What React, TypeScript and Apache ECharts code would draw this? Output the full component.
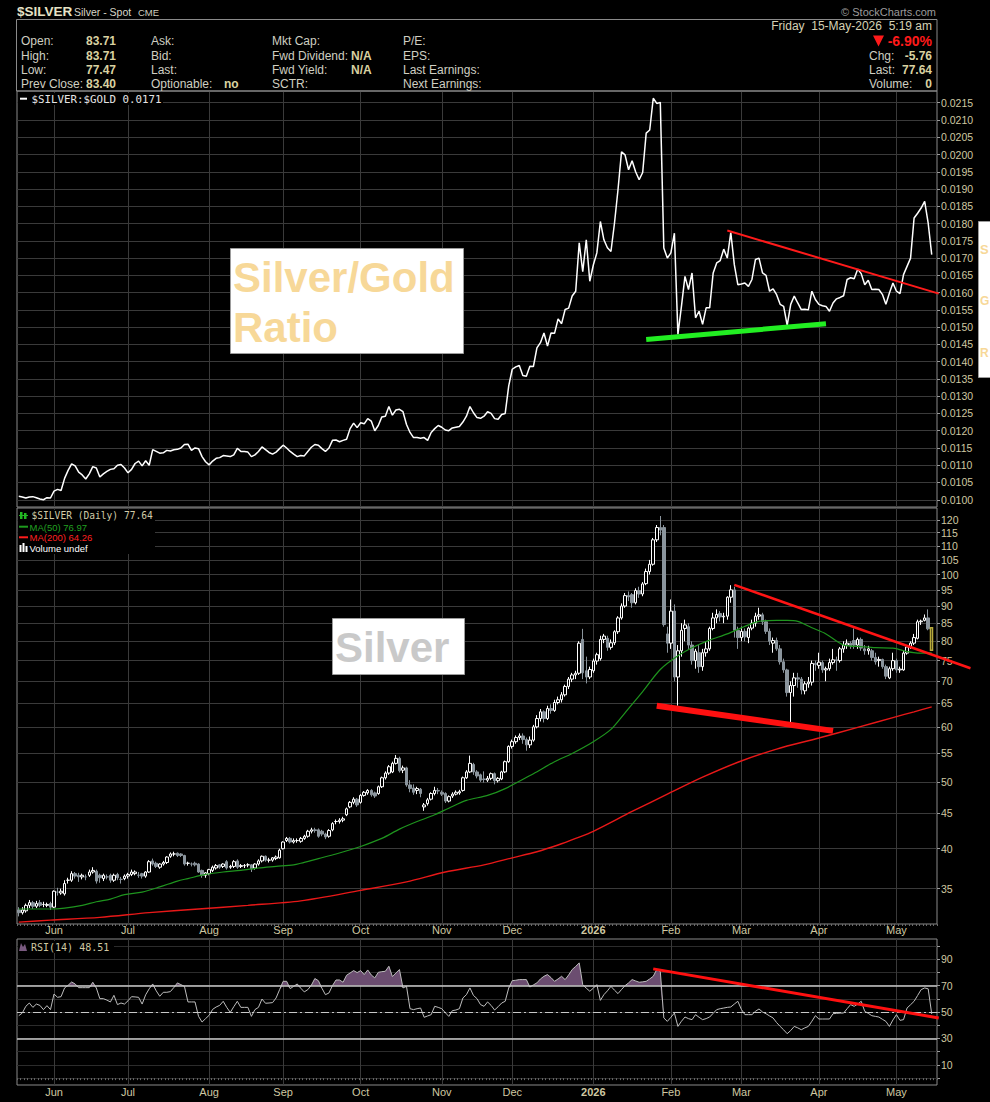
import React, { useEffect, useRef } from "react";
import * as echarts from "echarts";

// ---------- axes / ticks ----------
const monthLabels = ["Jun", "Jul", "Aug", "Sep", "Oct", "Nov", "Dec", "2026", "Feb", "Mar", "Apr", "May"];
const monthStarts = [10, 31, 54, 75, 97, 120, 140, 163, 185, 205, 227, 249];
const ratioTicks = [0.0100, 0.0105, 0.0110, 0.0115, 0.0120, 0.0125, 0.0130, 0.0135, 0.0140, 0.0145, 0.0150, 0.0155,
  0.0160, 0.0165, 0.0170, 0.0175, 0.0180, 0.0185, 0.0190, 0.0195, 0.0200, 0.0205, 0.0210, 0.0215];
const silverTicks = [35, 40, 45, 50, 55, 60, 65, 70, 75, 80, 85, 90, 95, 100, 105, 110, 115, 120];
const rsiLabels = [10, 30, 50, 70, 90];
const rsiGridLines = [0, 10, 20, 30, 40, 50, 60, 70, 80, 90, 100];

// ---------- $SILVER:$GOLD ratio (daily) ----------
const ratio = [
  0.01010, 0.01008, 0.01005, 0.01008, 0.01009, 0.01006, 0.01002, 0.01000, 0.01006, 0.01005,
  0.01025, 0.01030, 0.01027, 0.01062, 0.01085, 0.01104, 0.01098, 0.01080, 0.01072, 0.01060,
  0.01075, 0.01096, 0.01092, 0.01066, 0.01075, 0.01082, 0.01088, 0.01090, 0.01100, 0.01102,
  0.01092, 0.01078, 0.01088, 0.01105, 0.01112, 0.01098, 0.01113, 0.01100, 0.01145, 0.01140,
  0.01135, 0.01136, 0.01143, 0.01141, 0.01145, 0.01146, 0.01150, 0.01160, 0.01161, 0.01143,
  0.01150, 0.01148, 0.01125, 0.01110, 0.01101, 0.01112, 0.01120, 0.01122, 0.01128, 0.01127,
  0.01125, 0.01130, 0.01149, 0.01140, 0.01140, 0.01138, 0.01125, 0.01130, 0.01140, 0.01153,
  0.01145, 0.01137, 0.01132, 0.01138, 0.01148, 0.01158, 0.01150, 0.01140, 0.01132, 0.01125,
  0.01128, 0.01127, 0.01140, 0.01152, 0.01160, 0.01158, 0.01148, 0.01140, 0.01150, 0.01172,
  0.01173, 0.01168, 0.01172, 0.01175, 0.01206, 0.01222, 0.01209, 0.01223, 0.01220, 0.01235,
  0.01228, 0.01200, 0.01215, 0.01240, 0.01242, 0.01270, 0.01245, 0.01260, 0.01262, 0.01255,
  0.01218, 0.01195, 0.01180, 0.01180, 0.01178, 0.01180, 0.01172, 0.01195, 0.01206, 0.01215,
  0.01210, 0.01202, 0.01200, 0.01208, 0.01210, 0.01212, 0.01225, 0.01242, 0.01270, 0.01252,
  0.01238, 0.01236, 0.01242, 0.01255, 0.01250, 0.01235, 0.01233, 0.01247, 0.01250, 0.01330,
  0.01378, 0.01385, 0.01389, 0.01360, 0.01358, 0.01387, 0.01386, 0.01440, 0.01455, 0.01483,
  0.01445, 0.01483, 0.01482, 0.01524, 0.01510, 0.01551, 0.01555, 0.01590, 0.01604, 0.01744,
  0.01661, 0.01753, 0.01633, 0.01680, 0.01715, 0.01806, 0.01753, 0.01730, 0.01719, 0.01801,
  0.01898, 0.02008, 0.01999, 0.01956, 0.01982, 0.01950, 0.01927, 0.01948, 0.02062, 0.02071,
  0.02163, 0.02148, 0.02151, 0.01729, 0.01700, 0.01715, 0.01772, 0.01479, 0.01560, 0.01647,
  0.01609, 0.01657, 0.01527, 0.01546, 0.01508, 0.01556, 0.01556, 0.01657, 0.01686, 0.01693,
  0.01726, 0.01700, 0.01774, 0.01681, 0.01623, 0.01625, 0.01628, 0.01618, 0.01638, 0.01696,
  0.01700, 0.01657, 0.01650, 0.01604, 0.01611, 0.01594, 0.01566, 0.01560, 0.01505, 0.01566,
  0.01590, 0.01570, 0.01551, 0.01552, 0.01550, 0.01604, 0.01580, 0.01566, 0.01562, 0.01560,
  0.01546, 0.01570, 0.01582, 0.01586, 0.01591, 0.01638, 0.01643, 0.01640, 0.01668, 0.01655,
  0.01623, 0.01636, 0.01609, 0.01610, 0.01609, 0.01595, 0.01566, 0.01599, 0.01628, 0.01604,
  0.01597, 0.01652, 0.01676, 0.01700, 0.01816, 0.01830, 0.01845, 0.01864, 0.01801, 0.01710,
];

// ---------- $SILVER daily candles: [open, close, low, high] ----------
const silverOHLC = [
  [32.6, 32.3, 31.9, 32.9], [32.3, 32.6, 32.1, 32.9], [32.5, 33.1, 32.3, 33.3], [33.1, 33.4, 32.8, 33.7], [33.4, 33.0, 32.7, 33.6],
  [33.0, 33.3, 32.8, 33.6], [33.4, 33.1, 32.9, 33.7], [33.2, 33.2, 32.9, 33.5], [33.1, 33.2, 32.9, 33.4], [33.3, 32.9, 32.6, 33.5],
  [32.9, 34.7, 32.8, 34.8], [34.6, 34.6, 34.2, 35.1], [34.5, 34.7, 34.3, 35.0], [34.4, 35.6, 34.2, 36.0], [36.0, 36.0, 35.6, 36.3],
  [36.0, 36.8, 35.8, 37.1], [36.8, 36.5, 36.2, 37.0], [36.6, 36.4, 35.8, 36.9], [36.4, 36.6, 36.1, 36.8], [36.4, 36.4, 36.0, 36.7],
  [36.6, 37.0, 36.4, 37.3], [37.0, 37.2, 36.8, 37.6], [37.1, 35.9, 35.6, 37.3], [36.6, 36.3, 35.7, 36.8], [36.2, 36.6, 35.9, 36.8],
  [36.4, 36.4, 36.1, 36.7], [36.6, 36.0, 35.7, 36.8], [36.0, 36.6, 35.8, 36.8], [36.7, 36.3, 36.0, 36.9], [36.1, 36.1, 35.6, 36.4],
  [36.2, 36.5, 36.0, 36.7], [36.5, 36.7, 36.2, 36.9], [36.7, 37.0, 36.5, 37.3], [36.8, 37.0, 36.6, 37.2], [36.6, 36.6, 36.3, 37.0],
  [36.8, 36.5, 36.2, 36.9], [36.5, 37.0, 36.3, 37.1], [37.0, 38.3, 36.9, 38.5], [38.4, 38.0, 37.8, 38.7], [38.1, 37.7, 37.5, 38.3],
  [37.6, 38.0, 37.4, 38.1], [38.0, 38.2, 37.8, 38.4], [38.2, 38.9, 38.0, 39.0], [39.0, 39.3, 38.8, 39.5], [39.3, 39.3, 39.0, 39.6],
  [39.4, 39.1, 38.9, 39.5], [39.3, 39.1, 38.9, 39.4], [39.1, 38.0, 37.8, 39.2], [38.1, 38.1, 37.8, 38.3], [38.0, 38.0, 37.7, 38.2],
  [38.1, 37.9, 37.7, 38.3], [38.0, 37.0, 36.9, 38.1], [37.2, 36.6, 36.3, 37.3], [36.6, 36.9, 36.3, 37.0], [36.8, 37.3, 36.6, 37.4],
  [37.2, 37.6, 37.0, 37.8], [37.5, 37.8, 37.3, 38.0], [37.9, 37.6, 37.4, 38.0], [37.7, 38.0, 37.5, 38.1], [38.3, 37.5, 37.3, 38.5],
  [37.6, 37.7, 37.4, 37.9], [37.7, 38.3, 37.5, 38.5], [38.4, 37.6, 37.4, 38.6], [37.7, 37.8, 37.5, 38.0], [37.8, 37.8, 37.5, 38.0],
  [37.9, 37.9, 37.6, 38.1], [37.9, 37.4, 37.0, 38.0], [37.5, 38.0, 37.3, 38.1], [38.0, 38.4, 37.8, 38.6], [38.4, 39.0, 38.2, 39.1],
  [39.0, 38.5, 38.3, 39.1], [38.5, 38.5, 38.2, 38.8], [38.5, 38.8, 38.3, 38.9], [38.7, 38.9, 38.5, 39.1], [38.8, 39.8, 38.7, 40.0],
  [40.0, 40.9, 39.9, 41.0], [41.1, 41.4, 40.9, 41.6], [41.4, 40.9, 40.7, 41.6], [40.9, 41.1, 40.7, 41.4], [41.1, 41.1, 40.8, 41.4],
  [41.0, 41.4, 40.8, 41.6], [41.4, 41.7, 41.2, 41.9], [41.7, 42.4, 41.5, 42.6], [42.4, 42.6, 42.1, 42.9], [42.6, 42.5, 42.2, 42.9],
  [42.6, 41.7, 41.5, 42.8], [42.4, 42.0, 41.7, 42.6], [42.0, 41.6, 41.3, 42.2], [41.7, 42.5, 41.5, 42.7], [42.6, 43.5, 42.4, 43.7],
  [43.8, 43.8, 43.4, 44.1], [43.8, 44.0, 43.5, 44.3], [44.0, 44.2, 43.7, 44.5], [44.8, 45.7, 44.6, 45.9], [46.0, 46.7, 45.8, 46.9],
  [46.7, 47.2, 46.4, 47.5], [47.2, 46.3, 46.0, 47.4], [46.7, 47.8, 46.5, 48.0], [47.8, 48.3, 47.6, 48.5], [48.2, 48.6, 47.9, 48.8],
  [48.6, 47.9, 47.6, 48.8], [48.2, 47.7, 47.4, 48.4], [48.1, 49.2, 47.9, 49.4], [49.2, 50.7, 49.0, 50.9], [50.7, 51.5, 50.4, 51.8],
  [51.5, 52.6, 51.2, 52.9], [51.7, 53.2, 51.5, 53.5], [53.2, 54.1, 53.0, 54.7], [54.1, 51.9, 51.6, 54.4], [52.0, 52.4, 51.5, 52.8],
  [52.4, 49.5, 49.2, 52.6], [49.5, 48.9, 48.3, 50.3], [49.0, 48.3, 47.9, 49.6], [48.6, 48.9, 48.0, 49.2], [48.8, 48.1, 47.5, 49.0],
  [46.0, 46.3, 45.4, 46.6], [46.5, 47.1, 46.2, 47.4], [47.2, 48.1, 47.0, 48.3], [48.1, 48.6, 47.8, 49.2], [48.6, 48.5, 48.0, 49.0],
  [48.3, 48.0, 47.7, 48.6], [48.1, 46.9, 46.6, 48.3], [46.9, 47.6, 46.7, 47.8], [47.7, 48.0, 47.4, 48.3], [48.0, 48.3, 47.8, 48.6],
  [48.2, 48.4, 47.9, 48.7], [48.6, 50.7, 48.4, 50.9], [50.7, 51.7, 50.5, 52.0], [51.7, 53.2, 51.5, 54.6], [53.0, 51.7, 51.2, 53.3],
  [51.7, 51.0, 50.6, 52.0], [51.2, 50.3, 50.0, 51.4], [50.5, 50.4, 49.9, 51.8], [50.3, 50.6, 50.0, 51.0], [50.6, 51.4, 50.3, 51.6],
  [51.4, 50.2, 49.6, 51.6], [50.2, 50.6, 49.9, 50.8], [50.5, 51.7, 50.3, 51.9], [51.7, 53.5, 51.5, 53.7], [53.5, 56.3, 53.3, 56.5],
  [56.3, 57.2, 55.9, 57.6], [57.2, 58.0, 56.8, 58.4], [58.0, 58.3, 57.5, 58.8], [58.3, 57.6, 56.8, 58.8], [57.6, 56.6, 55.5, 58.0],
  [56.6, 57.5, 56.0, 58.2], [57.5, 60.1, 57.2, 60.5], [60.1, 61.8, 59.8, 62.5], [61.8, 63.2, 61.2, 63.8], [63.2, 61.8, 61.0, 63.5],
  [61.8, 63.9, 61.5, 64.5], [63.9, 63.5, 62.8, 64.8], [63.5, 65.2, 63.2, 65.8], [65.2, 65.8, 64.8, 66.5], [65.8, 66.9, 65.2, 67.5],
  [66.9, 68.8, 66.5, 69.2], [68.8, 70.5, 68.2, 71.0], [70.5, 71.5, 69.8, 72.0], [71.5, 71.9, 70.5, 72.5], [71.9, 79.5, 71.5, 80.0],
  [80.5, 72.0, 70.5, 83.4], [72.5, 71.0, 69.5, 76.0], [71.0, 72.8, 70.5, 73.5], [72.5, 74.9, 72.0, 75.5], [74.9, 76.5, 74.0, 77.0],
  [75.5, 80.5, 75.0, 81.5], [80.5, 81.4, 79.5, 82.0], [80.8, 78.4, 77.5, 81.5], [78.4, 79.6, 77.8, 80.5], [79.6, 82.6, 79.0, 83.0],
  [82.6, 86.5, 82.0, 87.0], [86.5, 90.0, 86.0, 90.8], [90.0, 93.2, 89.5, 94.0], [93.2, 92.8, 91.5, 94.5], [93.5, 91.0, 89.5, 94.0],
  [91.0, 94.8, 90.5, 95.5], [94.8, 93.7, 92.5, 96.0], [93.7, 96.9, 93.0, 97.5], [97.0, 101.0, 96.5, 102.0], [101.0, 103.5, 100.0, 105.0],
  [103.5, 112.3, 103.0, 113.0], [112.3, 117.0, 111.5, 118.0], [117.0, 116.0, 114.0, 121.6], [117.0, 84.6, 84.0, 118.0], [82.0, 79.5, 77.0, 84.0],
  [79.5, 88.5, 78.0, 92.0], [88.5, 71.0, 70.0, 90.5], [71.0, 77.5, 64.5, 79.0], [77.5, 83.0, 76.0, 85.0], [83.5, 84.5, 80.0, 86.0],
  [84.0, 79.0, 78.0, 85.0], [79.0, 75.0, 74.0, 80.0], [75.0, 77.4, 73.0, 78.0], [77.0, 73.5, 72.0, 79.0], [73.5, 77.0, 72.5, 78.0],
  [77.0, 78.0, 76.0, 80.0], [78.0, 83.5, 77.5, 84.0], [83.5, 86.5, 83.0, 88.0], [86.5, 87.5, 85.0, 89.0], [87.8, 86.8, 85.5, 88.5],
  [86.8, 87.0, 85.0, 88.0], [87.0, 92.7, 86.0, 93.0], [92.7, 95.0, 91.0, 96.5], [95.0, 83.0, 81.0, 96.0], [83.0, 81.0, 78.0, 84.0],
  [81.0, 82.7, 80.0, 84.0], [82.7, 81.2, 80.0, 83.5], [81.0, 83.6, 79.5, 84.0], [83.6, 85.0, 83.0, 86.0], [85.0, 87.0, 84.0, 88.0],
  [87.0, 87.4, 86.0, 89.5], [87.4, 85.4, 84.5, 88.0], [85.4, 82.7, 82.0, 86.0], [82.7, 80.0, 79.0, 83.5], [79.5, 80.2, 77.0, 81.0],
  [80.2, 78.0, 77.5, 81.0], [78.0, 74.7, 74.0, 79.0], [74.7, 72.7, 72.0, 75.5], [72.7, 67.4, 66.5, 73.0], [67.4, 69.0, 61.0, 70.0],
  [69.0, 70.8, 66.5, 72.0], [70.8, 70.5, 68.5, 72.0], [70.5, 68.0, 67.0, 71.0], [67.8, 69.4, 67.0, 70.0], [69.4, 69.8, 68.5, 71.0],
  [69.8, 74.3, 69.0, 75.0], [74.3, 74.0, 72.5, 75.0], [73.8, 74.6, 73.0, 77.0], [74.5, 72.7, 72.0, 75.0], [72.7, 73.0, 70.0, 73.5],
  [73.0, 74.5, 72.5, 75.5], [74.5, 75.2, 74.0, 78.0], [75.2, 75.0, 72.5, 76.0], [75.0, 78.0, 74.5, 78.5], [78.0, 79.0, 77.0, 80.0],
  [79.0, 79.5, 78.0, 80.5], [79.5, 78.8, 78.0, 80.0], [80.2, 79.0, 78.0, 83.5], [79.0, 80.5, 78.0, 81.0], [80.5, 78.2, 77.5, 81.0],
  [78.0, 77.5, 76.5, 79.0], [77.5, 78.0, 76.5, 78.8], [77.5, 75.8, 75.0, 78.0], [75.8, 74.7, 74.0, 77.0], [75.0, 75.3, 73.5, 76.0],
  [75.3, 73.5, 73.0, 75.5], [73.5, 71.2, 70.5, 74.0], [70.8, 73.0, 70.5, 73.5], [73.0, 75.0, 72.5, 77.0], [75.0, 72.7, 72.0, 75.5],
  [72.7, 72.9, 72.0, 73.5], [72.7, 76.9, 72.5, 77.5], [76.9, 78.5, 76.5, 79.0], [78.5, 79.5, 78.0, 80.0], [79.5, 81.0, 79.0, 82.0],
  [80.8, 85.4, 80.5, 86.0], [85.4, 85.6, 84.5, 86.0], [85.8, 86.5, 85.5, 87.5], [86.5, 83.4, 83.0, 89.0], [83.71, 77.64, 77.47, 83.71],
];

// ---------- moving averages as [dayIndex, value] ----------
const ma50Points = [
  [0, 32.7], [9, 32.7], [13, 32.8], [18, 33.1], [22, 33.5], [26, 33.8], [30, 34.3], [35, 34.6], [40, 35.2], [45, 35.9],
  [48, 36.2], [53, 36.7], [58, 37.0], [63, 37.2], [68, 37.5], [73, 37.7], [78, 37.9], [80, 38.1], [85, 38.7], [90, 39.3],
  [97, 40.3], [103, 41.4], [108, 42.7], [113, 43.8], [118, 44.8], [122, 45.8], [127, 47.0], [133, 47.8], [138, 48.9], [146, 51.4],
  [152, 53.5], [157, 55.0], [163, 57.2], [168, 59.6], [172, 63.0], [177, 67.6], [182, 72.8], [187, 76.2], [191, 78.3], [196, 80.3],
  [201, 82.0], [206, 84.1], [210, 85.5], [215, 85.8], [218, 85.8], [221, 85.5], [225, 83.7], [229, 82.0], [234, 79.0], [239, 78.6],
  [243, 78.3], [248, 78.2], [252, 77.3], [255, 76.9], [259, 76.97],
];
const ma200Points = [
  [0, 31.3], [9, 31.5], [23, 31.8], [37, 32.3], [51, 32.7], [65, 33.1], [80, 33.6], [97, 34.8], [110, 35.8], [121, 37.0],
  [132, 37.9], [140, 38.8], [147, 39.6], [153, 40.5], [158, 41.4], [163, 42.4], [174, 45.3], [184, 48.0], [194, 50.8], [204, 53.4],
  [215, 55.8], [227, 57.9], [238, 60.0], [248, 62.0], [254, 63.2], [259, 64.26],
];

// ---------- RSI(14) ----------
const rsi14 = [
  47.2, 49.2, 54.3, 56.8, 53.5, 56.0, 55.0, 51.8, 54.8, 51.8,
  63.6, 61.1, 61.6, 68.2, 70.2, 72.7, 71.2, 68.4, 68.4, 68.4,
  68.4, 72.5, 68.2, 60.1, 60.1, 59.0, 57.6, 62.6, 55.6, 56.8,
  56.0, 58.5, 61.6, 61.4, 61.1, 56.0, 63.0, 67.5, 71.2, 66.0,
  61.9, 64.9, 64.9, 65.4, 68.5, 72.0, 70.7, 69.4, 57.6, 57.6,
  57.6, 46.7, 42.4, 45.0, 47.5, 52.0, 53.8, 55.0, 58.1, 53.5,
  49.7, 54.0, 58.1, 53.5, 53.5, 53.5, 46.7, 51.8, 53.5, 59.8,
  56.6, 56.8, 57.1, 60.6, 66.9, 73.2, 73.2, 67.7, 69.4, 71.2,
  68.0, 65.2, 66.9, 70.2, 75.3, 73.7, 68.0, 63.1, 64.4, 70.0,
  74.2, 74.2, 72.5, 77.8, 79.5, 81.3, 79.8, 81.3, 78.3, 81.8,
  78.0, 75.8, 80.0, 80.5, 80.8, 84.6, 76.8, 79.5, 82.1, 68.2,
  69.4, 52.5, 51.8, 52.5, 53.0, 46.0, 47.0, 48.0, 54.3, 53.5,
  52.5, 49.5, 46.7, 51.0, 51.5, 52.5, 60.6, 63.1, 68.2, 62.5,
  60.1, 55.6, 54.3, 57.6, 55.0, 51.5, 54.0, 56.8, 58.1, 68.2,
  73.7, 74.0, 74.5, 74.5, 74.5, 68.9, 70.5, 72.0, 75.0, 77.0,
  78.3, 76.0, 73.2, 75.0, 77.0, 74.5, 78.0, 82.1, 84.5, 87.1,
  70.7, 68.0, 65.7, 68.0, 70.7, 58.8, 63.1, 66.0, 69.4, 66.5,
  63.9, 67.0, 69.9, 72.0, 74.5, 73.5, 72.5, 72.8, 73.2, 75.0,
  77.0, 82.1, 80.8, 45.5, 42.9, 46.0, 49.2, 39.1, 43.0, 46.2,
  45.0, 44.2, 48.0, 46.0, 44.2, 45.0, 46.2, 49.0, 51.8, 52.5,
  53.0, 53.5, 53.8, 56.0, 58.1, 52.0, 48.0, 48.0, 48.0, 50.5,
  52.3, 50.0, 48.7, 47.0, 45.5, 42.0, 39.1, 36.5, 33.6, 36.0,
  39.1, 38.0, 36.6, 38.0, 39.1, 43.0, 47.2, 44.7, 44.7, 44.7,
  44.7, 48.7, 49.0, 49.2, 49.2, 52.5, 55.6, 54.3, 56.0, 58.1,
  50.5, 49.0, 47.2, 46.7, 46.2, 44.5, 42.9, 39.1, 44.0, 48.0,
  43.7, 44.2, 53.0, 55.5, 58.1, 62.5, 66.9, 68.2, 67.5, 48.5,
];

// ---------- hand-drawn trend lines, in data coordinates [dayIndex, value] ----------
const trendLines = [
  { grid: 0, from: [201, 0.0178], to: [261, 0.01597], color: "#ff1a1a", width: 2 },
  { grid: 0, from: [178, 0.01464], to: [229, 0.0151], color: "#22ee22", width: 5 },
  { grid: 1, from: [203, 96.6], to: [270, 73.1], color: "#ff1414", width: 2.5 },
  { grid: 1, from: [181, 64.5], to: [231, 59.3], color: "#ff1010", width: 6 },
  { grid: 2, from: [180, 82.6], to: [261, 45.5], color: "#ff1010", width: 3 },
];

const SANS = "'Liberation Sans', Arial, sans-serif";
const MONO = "'DejaVu Sans Mono', monospace";
const AXIS_TXT = "#cfc8a2";
const GRIDLINE = "#3a3a3a";
const BORDER = "#8a8a8a";

const txt = (text: string, x: number, y: number, font: string, fill: string, align = "left", z = 60) => ({
  type: "text",
  x,
  y,
  silent: true,
  z,
  style: { text, font, fill, align, verticalAlign: "middle", textAlign: align, textVerticalAlign: "middle" },
});

export default function App() {
  const ref = useRef<HTMLDivElement>(null);

  useEffect(() => {
    document.body.style.margin = "0";
    document.body.style.background = "#000";
    const chart = echarts.init(ref.current as HTMLDivElement, null, { renderer: "svg", width: 990, height: 1102 });

    const N = silverOHLC.length;
    const cats = Array.from({ length: N + 1 }, (_, i) => String(i));
    const isMonthStart = (idx: number) => monthStarts.indexOf(idx) >= 0;
    const monthName = (idx: number) => {
      const k = monthStarts.indexOf(idx);
      if (k < 0) return "";
      const l = monthLabels[k];
      return l === "2026" ? "{b|2026}" : l;
    };

    const grids = [
      { left: 17, top: 91, width: 920, height: 416 },
      { left: 17, top: 508, width: 920, height: 416 },
      { left: 17, top: 939, width: 920, height: 146 },
    ].map((g) => ({ ...g, show: true, borderColor: BORDER, borderWidth: 1, backgroundColor: "#000", containLabel: false }));

    const xAxisFor = (k: number) => ({
      type: "category",
      gridIndex: k,
      data: cats,
      boundaryGap: true,
      axisLine: { show: false },
      axisTick: { show: k > 0, interval: 0, length: 2, lineStyle: { color: "#6a6a6a" } },
      axisLabel: {
        show: k > 0,
        interval: (idx: number) => isMonthStart(idx),
        formatter: (_v: string, idx: number) => monthName(idx),
        color: AXIS_TXT,
        fontFamily: SANS,
        fontSize: 11,
        margin: k === 1 ? 0 : 1,
        rich: { b: { fontWeight: "bold", color: AXIS_TXT, fontFamily: SANS, fontSize: 11 } },
      },
      splitLine: {
        show: true,
        alignWithLabel: true,
        interval: (idx: number) => isMonthStart(idx),
        lineStyle: { color: GRIDLINE, width: 1 },
      },
    });

    const yLabel = { color: AXIS_TXT, fontFamily: SANS, fontSize: 10.5, margin: 4 };

    const candleData = silverOHLC.map((d, i) =>
      i === N - 1
        ? { value: d, itemStyle: { color: "rgba(0,0,0,0)", color0: "rgba(0,0,0,0)", borderColor: "#b8aa3c", borderColor0: "#b8aa3c", borderWidth: 1.5 } }
        : d
    );

    const option: any = {
      animation: false,
      backgroundColor: "#000",
      grid: grids,
      xAxis: [xAxisFor(0), xAxisFor(1), xAxisFor(2)],
      yAxis: [
        {
          type: "value",
          gridIndex: 0,
          position: "right",
          min: 0.00979,
          max: 0.02184,
          axisLine: { show: false },
          axisTick: { show: true, customValues: ratioTicks, length: 3, lineStyle: { color: "#9a9a9a" } },
          axisLabel: { ...yLabel, customValues: ratioTicks, formatter: (v: number) => v.toFixed(4) },
          splitLine: { show: true, lineStyle: { color: GRIDLINE } },
        },
        {
          type: "log",
          logBase: 10,
          gridIndex: 1,
          position: "right",
          min: 31.1,
          max: 124.9,
          axisLine: { show: false },
          axisTick: { show: true, customValues: silverTicks, length: 3, lineStyle: { color: "#9a9a9a" } },
          axisLabel: { ...yLabel, customValues: silverTicks, formatter: (v: number) => String(Math.round(v)) },
          splitLine: { show: true, lineStyle: { color: GRIDLINE } },
        },
        {
          type: "value",
          gridIndex: 2,
          position: "right",
          min: -5.2,
          max: 105.2,
          axisLine: { show: false },
          axisTick: { show: true, customValues: rsiGridLines, length: 3, lineStyle: { color: "#9a9a9a" } },
          axisLabel: { ...yLabel, customValues: rsiLabels },
          splitLine: { show: true, lineStyle: { color: "#2c2c2c" } },
        },
      ],
      series: [
        {
          name: "ratio",
          type: "line",
          xAxisIndex: 0,
          yAxisIndex: 0,
          data: ratio,
          showSymbol: false,
          symbol: "none",
          lineStyle: { color: "#ffffff", width: 1.5 },
          silent: true,
        },
        {
          name: "silver",
          type: "candlestick",
          xAxisIndex: 1,
          yAxisIndex: 1,
          data: candleData,
          barWidth: 3,
          itemStyle: { color: "#000000", borderColor: "#ffffff", color0: "#8a949c", borderColor0: "#8a949c", borderWidth: 1 },
          silent: true,
        },
        {
          name: "ma50",
          type: "line",
          xAxisIndex: 1,
          yAxisIndex: 1,
          data: ma50Points,
          symbol: "none",
          smooth: 0.3,
          lineStyle: { color: "#1e941e", width: 1.2 },
          silent: true,
          z: 3,
        },
        {
          name: "ma200",
          type: "line",
          xAxisIndex: 1,
          yAxisIndex: 1,
          data: ma200Points,
          symbol: "none",
          smooth: 0.3,
          lineStyle: { color: "#e81818", width: 1.4 },
          silent: true,
          z: 3,
        },
        {
          name: "rsiBase",
          type: "line",
          xAxisIndex: 2,
          yAxisIndex: 2,
          stack: "rsiFill",
          data: rsi14.map((v) => Math.min(v, 70)),
          symbol: "none",
          lineStyle: { width: 0, opacity: 0 },
          silent: true,
        },
        {
          name: "rsiOver",
          type: "line",
          xAxisIndex: 2,
          yAxisIndex: 2,
          stack: "rsiFill",
          data: rsi14.map((v) => Math.max(v - 70, 0)),
          symbol: "none",
          lineStyle: { width: 0, opacity: 0 },
          areaStyle: { color: "#6b4d70", opacity: 1 },
          silent: true,
        },
        {
          name: "rsi",
          type: "line",
          xAxisIndex: 2,
          yAxisIndex: 2,
          data: rsi14,
          symbol: "none",
          lineStyle: { color: "#bdbdbd", width: 1 },
          silent: true,
          z: 4,
          markLine: {
            silent: true,
            symbol: "none",
            label: { show: false },
            data: [
              { yAxis: 70, lineStyle: { color: "#c8c8c8", width: 1.5, type: "solid" } },
              { yAxis: 30, lineStyle: { color: "#c8c8c8", width: 1.5, type: "solid" } },
              { yAxis: 50, lineStyle: { color: "#c8c8c8", width: 1.2, type: [8, 3, 2, 3] } },
            ],
          },
        },
      ],
    };

    chart.setOption(option);

    const lines = trendLines.map((t) => {
      const a = chart.convertToPixel({ gridIndex: t.grid } as any, t.from) as any;
      const b = chart.convertToPixel({ gridIndex: t.grid } as any, t.to) as any;
      return {
        type: "line",
        silent: true,
        z: 40,
        shape: { x1: a[0], y1: a[1], x2: b[0], y2: b[1] },
        style: { stroke: t.color, lineWidth: t.width },
      };
    });

    const lbl = "#cfcfc2";
    const val = "#d9d1a0";
    const F12 = `12px ${SANS}`;
    const B12 = `bold 12px ${SANS}`;
    const BIG = `bold 42px ${SANS}`;
    const ORANGE = "#f7d898";

    const graphics: any[] = [
      // title
      txt("$SILVER", 17, 11, `bold 13.5px ${SANS}`, "#e6e2c6"),
      txt("Silver - Spot", 74, 12, `10.5px ${SANS}`, "#d8d6c8"),
      txt("CME", 138, 12.5, `9.5px ${SANS}`, "#cfcdbf"),
      txt("\u00a9 StockCharts.com", 936, 12, `11px ${SANS}`, "#9b9b9b", "right"),
      // header box
      { type: "rect", silent: true, z: 59, shape: { x: 16.5, y: 19.5, width: 920.5, height: 71.5 }, style: { fill: "none", stroke: BORDER, lineWidth: 1 } },
      txt("Open:", 21, 41.3, F12, lbl),
      txt("High:", 21, 55.7, F12, lbl),
      txt("Low:", 21, 70, F12, lbl),
      txt("Prev Close:", 21, 84.3, F12, lbl),
      txt("83.71", 116, 41.3, B12, val, "right"),
      txt("83.71", 116, 55.7, B12, val, "right"),
      txt("77.47", 116, 70, B12, val, "right"),
      txt("83.40", 116, 84.3, B12, val, "right"),
      txt("Ask:", 151, 41.3, F12, lbl),
      txt("Bid:", 151, 55.7, F12, lbl),
      txt("Last:", 151, 70, F12, lbl),
      txt("Optionable:", 151, 84.3, F12, lbl),
      txt("no", 224, 84.3, B12, val),
      txt("Mkt Cap:", 272, 41.3, F12, lbl),
      txt("Fwd Dividend:", 272, 55.7, F12, lbl),
      txt("N/A", 351, 55.7, B12, val),
      txt("Fwd Yield:", 272, 70, F12, lbl),
      txt("N/A", 351, 70, B12, val),
      txt("SCTR:", 272, 84.3, F12, lbl),
      txt("P/E:", 403, 41.3, F12, lbl),
      txt("EPS:", 403, 55.7, F12, lbl),
      txt("Last Earnings:", 403, 70, F12, lbl),
      txt("Next Earnings:", 403, 84.3, F12, lbl),
      txt("Friday  15-May-2026  5:19 am", 932, 26.3, F12, "#d6d2b4", "right"),
      { type: "polygon", silent: true, z: 60, shape: { points: [[873, 35.5], [884, 35.5], [878.5, 46.5]] }, style: { fill: "#ff1a1a" } },
      txt("-6.90%", 932, 41.3, `bold 14px ${SANS}`, "#ff1a1a", "right"),
      txt("Chg:", 869, 55.7, F12, lbl),
      txt("-5.76", 932, 55.7, B12, val, "right"),
      txt("Last:", 869, 70, F12, lbl),
      txt("77.64", 932, 70, B12, val, "right"),
      txt("Volume:", 869, 84.3, F12, lbl),
      txt("0", 932, 84.3, B12, val, "right"),

      // top panel label
      { type: "rect", silent: true, z: 58, shape: { x: 18, y: 93, width: 145, height: 12 }, style: { fill: "#000" } },
      { type: "line", silent: true, z: 60, shape: { x1: 20, y1: 98.7, x2: 27, y2: 98.7 }, style: { stroke: "#ffffff", lineWidth: 2 } },
      txt("$SILVER:$GOLD 0.0171", 31.5, 99, `10.8px ${MONO}`, "#e4e4e4"),

      // middle panel legend
      { type: "rect", silent: true, z: 58, shape: { x: 18, y: 510, width: 137, height: 44 }, style: { fill: "#000" } },
      { type: "rect", silent: true, z: 60, shape: { x: 20, y: 512, width: 2.5, height: 7 }, style: { fill: "#22b822" } },
      { type: "rect", silent: true, z: 60, shape: { x: 24, y: 513, width: 2.5, height: 6 }, style: { fill: "#22b822" } },
      { type: "line", silent: true, z: 60, shape: { x1: 19, y1: 515.5, x2: 28, y2: 515.5 }, style: { stroke: "#22b822", lineWidth: 1 } },
      txt("$SILVER (Daily) 77.64", 31.5, 515.8, `9.6px ${MONO}`, "#d0cba8"),
      { type: "line", silent: true, z: 60, shape: { x1: 19, y1: 526.7, x2: 28, y2: 526.7 }, style: { stroke: "#1e9a1e", lineWidth: 2 } },
      txt("MA(50) 76.97", 29.5, 527, `9.5px ${SANS}`, "#21a121"),
      { type: "line", silent: true, z: 60, shape: { x1: 19, y1: 537.3, x2: 28, y2: 537.3 }, style: { stroke: "#ff1c1c", lineWidth: 2 } },
      txt("MA(200) 64.26", 29.5, 537.6, `9.5px ${SANS}`, "#ff2020"),
      { type: "rect", silent: true, z: 60, shape: { x: 19.5, y: 545, width: 2, height: 7 }, style: { fill: "#ffffff" } },
      { type: "rect", silent: true, z: 60, shape: { x: 22.5, y: 543, width: 2, height: 9 }, style: { fill: "#ffffff" } },
      { type: "rect", silent: true, z: 60, shape: { x: 25.5, y: 546, width: 2, height: 6 }, style: { fill: "#ffffff" } },
      txt("Volume undef", 29.5, 548, `9.5px ${SANS}`, "#ffffff"),

      // RSI legend
      { type: "rect", silent: true, z: 58, shape: { x: 18, y: 941, width: 96, height: 12 }, style: { fill: "#000" } },
      { type: "polygon", silent: true, z: 60, shape: { points: [[19, 951], [21, 943], [23, 947], [25, 944], [27, 951]] }, style: { fill: "#7a5a80" } },
      txt("RSI(14) 48.51", 31, 947, `10px ${MONO}`, "#cfc8a2"),

      // annotation boxes
      { type: "rect", silent: true, z: 70, shape: { x: 230.5, y: 248.5, width: 233, height: 105 }, style: { fill: "#ffffff", stroke: "#9c9c9c", lineWidth: 1 } },
      txt("Silver/Gold", 233, 277, BIG, ORANGE, "left", 71),
      txt("Ratio", 233, 327, BIG, ORANGE, "left", 71),
      { type: "rect", silent: true, z: 70, shape: { x: 332.5, y: 618.5, width: 132, height: 56 }, style: { fill: "#ffffff", stroke: "#9c9c9c", lineWidth: 1 } },
      txt("Silver", 335, 647, BIG, "#c9c9c9", "left", 71),
      // partly visible box at the right edge
      { type: "rect", silent: true, z: 70, shape: { x: 978.5, y: 221.5, width: 40, height: 156 }, style: { fill: "#ffffff", stroke: "#9c9c9c", lineWidth: 1 } },
      txt("S", 980, 249, `bold 13px ${SANS}`, ORANGE, "left", 71),
      txt("G", 980, 301, `bold 12px ${SANS}`, ORANGE, "left", 71),
      txt("R", 980, 353, `bold 12px ${SANS}`, ORANGE, "left", 71),
      ...lines,
    ];

    chart.setOption({ graphic: graphics });

    return () => chart.dispose();
  }, []);

  return <div ref={ref} style={{ width: 990, height: 1102, background: "#000" }} />;
}
